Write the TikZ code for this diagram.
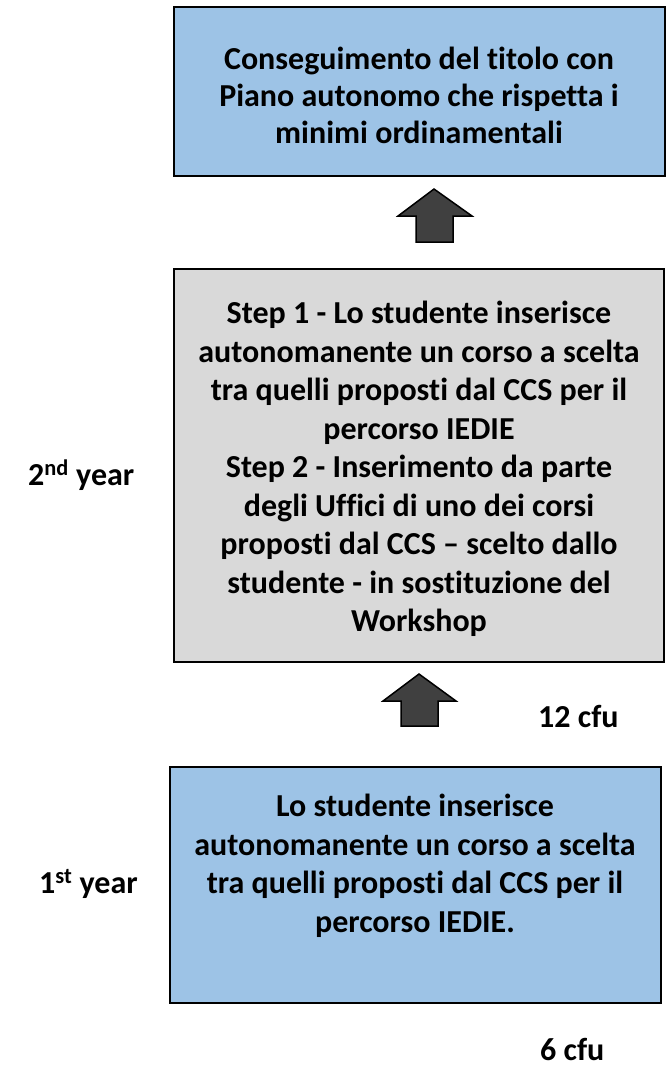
\documentclass[tikz,border=0pt]{standalone}
\usepackage{fontspec}
\setmainfont[Ligatures=NoCommon]{Carlito}
\definecolor{boxblue}{HTML}{9DC3E6}
\definecolor{boxgray}{HTML}{D9D9D9}
\definecolor{arrowgray}{HTML}{404040}
\begin{document}
\begin{tikzpicture}[x=1pt,y=-1pt,
  panel/.style={draw=black, line width=2pt, inner sep=0pt, outer sep=0pt},
  txt/.style={align=center, inner sep=0pt, font=\fontsize{32}{38.5}\selectfont\bfseries},
  blockarrow/.style={fill=arrowgray, draw=black, line width=1.5pt, line join=miter}]
\useasboundingbox (0,0) rectangle (670,1066);
% boxes
\node[panel, fill=boxblue, minimum width=491pt, minimum height=169pt] (top) at (419.5,91.5) {};
\node[panel, fill=boxgray, minimum width=490pt, minimum height=393pt] (mid) at (419,465.5) {};
\node[panel, fill=boxblue, minimum width=491pt, minimum height=236pt] (bot) at (415.5,885) {};
% texts
\node[txt, font=\fontsize{32}{37}\selectfont\bfseries] (toptxt) at (419,95) {Conseguimento del titolo con\\Piano autonomo che rispetta i\\minimi ordinamentali};
\node[txt] (midtxt) at (419,469) {Step 1 - Lo studente inserisce\\autonomanente un corso a scelta\\tra quelli proposti dal CCS per il\\percorso IEDIE\\Step 2 - Inserimento da parte\\degli Uffici di uno dei corsi\\proposti dal CCS -- scelto dallo\\studente - in sostituzione del\\Workshop};
\node[txt] (bottxt) at (415,866) {Lo studente inserisce\\autonomanente un corso a scelta\\tra quelli proposti dal CCS per il\\percorso IEDIE.};
\node[txt, anchor=base west] (year2) at (28,485) {2\textsuperscript{nd} year};
\node[txt, anchor=base west] (year1) at (39,893) {1\textsuperscript{st} year};
\node[txt, anchor=base west] (cfu12) at (538,727) {12 cfu};
\node[txt, anchor=base west] (cfu6) at (540,1060) {6 cfu};
% block arrows
\draw[blockarrow] (416,242) -- (416,216) -- (398,216) -- (434,189) -- (472,216) -- (453,216) -- (453,242) -- cycle;
\draw[blockarrow] (401,726) -- (401,701) -- (383,701) -- (419,674) -- (456,701) -- (438,701) -- (438,726) -- cycle;
\end{tikzpicture}
\end{document}
